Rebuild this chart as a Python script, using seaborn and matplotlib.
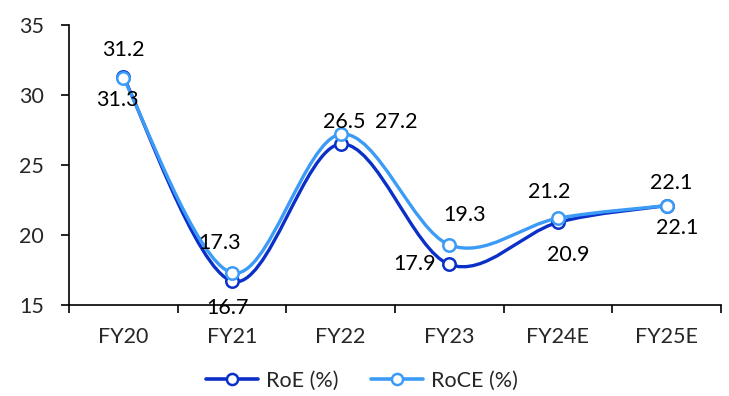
import numpy as np
import pandas as pd
import seaborn as sns
import matplotlib
matplotlib.use("Agg")
import matplotlib.pyplot as plt
from matplotlib.path import Path
from matplotlib.patches import PathPatch
from matplotlib.lines import Line2D

years = ["FY20", "FY21", "FY22", "FY23", "FY24E", "FY25E"]
roe = [31.3, 16.7, 26.5, 17.9, 20.9, 22.1]
roce = [31.2, 17.3, 27.2, 19.3, 21.2, 22.1]

# label offsets in pixels (dx, dy) relative to each point
roe_offsets = [(-6, -23), (-4, -27), (4, 22), (-35, 0), (10, -33), (11, -22)]
roce_offsets = [(0, 28), (-12, 30), (56, 12), (15, 30), (-9, 26), (5, 23)]

sns.set_style("white")
plt.rcParams["font.family"] = ["Lato", "DejaVu Sans"]

dark = "#0B30C8"
light = "#3C9BF7"
fs = 15.5

df = pd.DataFrame({"year": years * 2,
                   "value": roe + roce,
                   "series": ["RoE (%)"] * len(years) + ["RoCE (%)"] * len(years)})
df["x"] = np.tile(np.arange(len(years)), 2)

fig = plt.figure(figsize=(7.29, 3.96), dpi=100)
ax = fig.add_axes([69 / 729, 1 - 305 / 396, 652 / 729, 280 / 396])


def smooth_path(xs, ys):
    """Bezier path through the points, with Catmull-Rom style control points."""
    pts = np.column_stack([xs, ys]).astype(float)
    n = len(pts)
    verts = [pts[0]]
    codes = [Path.MOVETO]
    for i in range(n - 1):
        p0 = pts[i - 1] if i > 0 else pts[i]
        p1 = pts[i]
        p2 = pts[i + 1]
        p3 = pts[i + 2] if i + 2 < n else pts[i + 1]
        c1 = p1 + (p2 - p0) / 6.0
        c2 = p2 - (p3 - p1) / 6.0
        verts += [c1, c2, p2]
        codes += [Path.CURVE4] * 3
    return Path(verts, codes)


for name, vals, col, z in [("RoE (%)", roe, dark, 2), ("RoCE (%)", roce, light, 3)]:
    sub = df[df["series"] == name]
    ax.add_patch(PathPatch(smooth_path(sub["x"], sub["value"]), facecolor="none",
                           edgecolor=col, lw=2.4, zorder=z, capstyle="round"))
    sns.scatterplot(data=sub, x="x", y="value", ax=ax, marker="o", s=80,
                    facecolor="white", edgecolor=col, linewidth=1.8,
                    zorder=z + 0.5, legend=False)

for i, (v, off) in enumerate(zip(roe, roe_offsets)):
    ax.annotate(f"{v:.1f}", (i, v), xytext=off, textcoords="offset pixels",
                ha="center", va="center", fontsize=fs, color="black", zorder=6)
for i, (v, off) in enumerate(zip(roce, roce_offsets)):
    ax.annotate(f"{v:.1f}", (i, v), xytext=off, textcoords="offset pixels",
                ha="center", va="center", fontsize=fs, color="black", zorder=6)

ax.set_xlim(-0.5, len(years) - 0.5)
ax.set_ylim(15, 35)
ax.set_yticks([15, 20, 25, 30, 35])
ax.set_xticks(np.arange(len(years)))
ax.set_xticklabels(years)
ax.set_xticks(np.arange(len(years) + 1) - 0.5, minor=True)
ax.tick_params(axis="x", which="major", bottom=False, length=0, labelsize=fs, pad=16)
ax.tick_params(axis="x", which="minor", bottom=True, length=6, width=1.2,
               direction="out", color="black")
ax.tick_params(axis="y", left=True, length=6, width=1.2, direction="out",
               color="black", labelsize=fs, pad=12)
ax.set_xlabel("")
ax.set_ylabel("")
for s in ["top", "right"]:
    ax.spines[s].set_visible(False)
for s in ["left", "bottom"]:
    ax.spines[s].set_color("black")
    ax.spines[s].set_linewidth(1.2)

handles = [Line2D([], [], color=c, lw=2.6, marker="o", markersize=8,
                  markerfacecolor="white", markeredgecolor=c, markeredgewidth=1.8)
           for c in (dark, light)]
fig.legend(handles, ["RoE (%)", "RoCE (%)"], loc="center", ncol=2,
           bbox_to_anchor=(362 / 729, 1 - 381 / 396), frameon=False,
           fontsize=fs, handlelength=2.4, columnspacing=1.5, handletextpad=0.4)

fig.savefig("out.png", dpi=100)
